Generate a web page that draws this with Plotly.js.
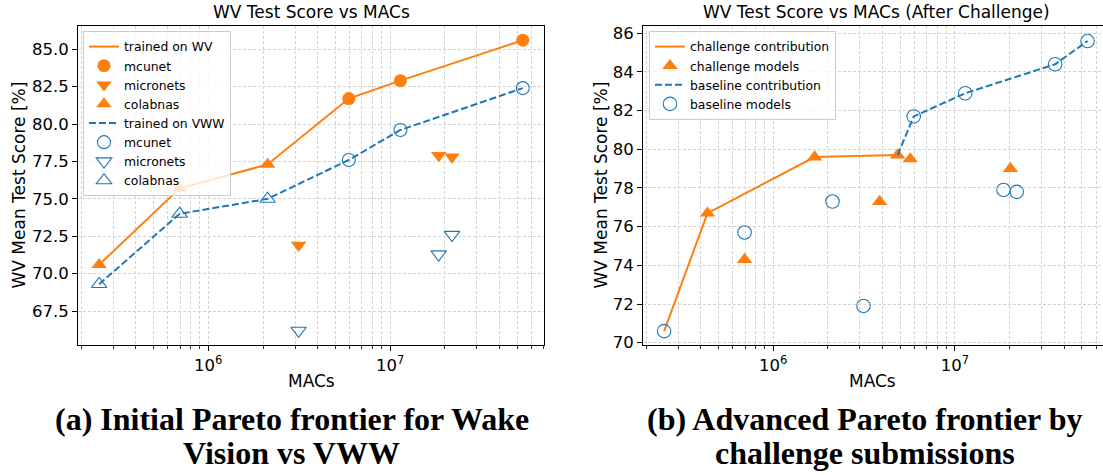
<!DOCTYPE html>
<html><head><meta charset="utf-8">
<script src="https://cdn.plot.ly/plotly-3.0.1.min.js"></script>
<style>html,body{margin:0;padding:0;background:#fff;overflow:hidden}</style>
</head><body><div id="chart" style="width:1103px;height:475px"></div>
<script>
// ---------- data (a): trained on WV ----------
const wvMcunetMACs = [5.93e6, 1.14e7, 5.37e7];
const wvMcunetScore = [81.7, 82.9, 85.6];
const wvMicronetsMACs = [3.14e6, 1.85e7, 2.19e7];
const wvMicronetsScore = [71.9, 77.9, 77.8];
const wvColabnasMACs = [2.51e5, 6.96e5, 2.12e6];
const wvColabnasScore = [70.6, 75.7, 77.3];
const wvFrontMACs = [2.51e5, 6.96e5, 2.12e6, 5.93e6, 1.14e7, 5.37e7];
const wvFrontScore = [70.6, 75.7, 77.3, 81.7, 82.9, 85.6];
// ---------- data (a): trained on VWW ----------
const vwwMcunetMACs = [5.93e6, 1.14e7, 5.37e7];
const vwwMcunetScore = [77.6, 79.6, 82.4];
const vwwMicronetsMACs = [3.14e6, 1.85e7, 2.19e7];
const vwwMicronetsScore = [66.2, 71.3, 72.6];
const vwwColabnasMACs = [2.51e5, 6.96e5, 2.12e6];
const vwwColabnasScore = [69.3, 74.0, 75.0];
const vwwFrontMACs = [2.51e5, 6.96e5, 2.12e6, 5.93e6, 1.14e7, 5.37e7];
const vwwFrontScore = [69.3, 74.0, 75.0, 77.6, 79.6, 82.4];
// ---------- data (b): after challenge ----------
const challengeMACs = [4.35e5, 6.96e5, 1.69e6, 3.85e6, 4.84e6, 5.68e6, 2.02e7];
const challengeScore = [76.7, 74.3, 79.6, 77.3, 79.7, 79.5, 79.0];
const challengeFrontMACs = [2.51e5, 4.35e5, 1.69e6, 4.84e6];
const challengeFrontScore = [70.6, 76.7, 79.6, 79.7];
const baselineMACs = [2.51e5, 6.96e5, 2.12e6, 3.14e6, 5.93e6, 1.14e7, 1.85e7, 2.19e7, 3.56e7, 5.37e7];
const baselineScore = [70.6, 75.7, 77.3, 71.9, 81.7, 82.9, 77.9, 77.8, 84.4, 85.6];
const baselineFrontMACs = [4.84e6, 5.93e6, 1.14e7, 3.56e7, 5.37e7];
const baselineFrontScore = [79.7, 81.7, 82.9, 84.4, 85.6];
// ---------- labels ----------
const xMajorTicks = [1e6, 1e7];
const xMajorText = ['10<sup>6</sup>', '10<sup>7</sup>'];
const yTicksA = [67.5, 70.0, 72.5, 75.0, 77.5, 80.0, 82.5, 85.0];
const yTicksB = [70, 72, 74, 76, 78, 80, 82, 84, 86];
const titleA = 'WV Test Score vs MACs';
const titleB = 'WV Test Score vs MACs (After Challenge)';
const xLabel = 'MACs';
const yLabel = 'WV Mean Test Score [%]';
const captionA = ['(a) Initial Pareto frontier for Wake', 'Vision vs VWW'];
const captionB = ['(b) Advanced Pareto frontier by', 'challenge submissions'];

// ---------- styling ----------
const ORANGE = '#ff7f0e', BLUE = '#1f77b4';
const W = 1103, H = 475;
const FONT = 'DejaVu Sans, sans-serif';
const px = p => p / W, py = p => 1 - p / H;
const TRI = 13.5;

const minorVals = [];
[1e5, 1e6, 1e7].forEach(d => { for (let k = 2; k <= 9; k++) minorVals.push(k * d); });

function xAxis(domain, range) {
  return {
    type: 'log', domain: domain, range: range, autorange: false,
    tickmode: 'array', tickvals: xMajorTicks, ticktext: xMajorText,
    ticks: 'outside', ticklen: 5, tickwidth: 1, tickcolor: '#000',
    showline: true, linecolor: '#000', linewidth: 1, mirror: true,
    showgrid: true, gridcolor: '#d3d3d3', griddash: '3px,2px', gridwidth: 1,
    minor: { tickvals: minorVals, ticks: 'outside', ticklen: 3, tickwidth: 0.8, tickcolor: '#000',
             showgrid: true, gridcolor: '#d3d3d3', griddash: '3px,2px', gridwidth: 1 },
    tickfont: { family: FONT, size: 16.5, color: '#000' },
    zeroline: false, fixedrange: true
  };
}
function yAxis(range, ticks, fmt, anchor, mirror) {
  return {
    domain: [py(345), py(26)], range: range, autorange: false, anchor: anchor,
    tickmode: 'array', tickvals: ticks, tickformat: fmt,
    ticks: 'outside', ticklen: 5, tickwidth: 1, tickcolor: '#000',
    showline: true, linecolor: '#000', linewidth: 1, mirror: mirror,
    showgrid: true, gridcolor: '#d3d3d3', griddash: '3px,2px', gridwidth: 1,
    tickfont: { family: FONT, size: 16.5, color: '#000' },
    zeroline: false, fixedrange: true
  };
}

const traces = [
  { x: wvFrontMACs, y: wvFrontScore, mode: 'lines', name: 'trained on WV',
    line: { color: ORANGE, width: 2 }, xaxis: 'x', yaxis: 'y', legend: 'legend' },
  { x: wvMcunetMACs, y: wvMcunetScore, mode: 'markers', name: 'mcunet',
    marker: { color: ORANGE, symbol: 'circle', size: 13 }, xaxis: 'x', yaxis: 'y', legend: 'legend' },
  { x: wvMicronetsMACs, y: wvMicronetsScore, mode: 'markers', name: 'micronets',
    marker: { color: ORANGE, symbol: 'triangle-down', size: TRI }, xaxis: 'x', yaxis: 'y', legend: 'legend' },
  { x: wvColabnasMACs, y: wvColabnasScore, mode: 'markers', name: 'colabnas',
    marker: { color: ORANGE, symbol: 'triangle-up', size: TRI }, xaxis: 'x', yaxis: 'y', legend: 'legend' },
  { x: vwwFrontMACs, y: vwwFrontScore, mode: 'lines', name: 'trained on VWW',
    line: { color: BLUE, width: 2, dash: '7px,3px' }, xaxis: 'x', yaxis: 'y', legend: 'legend' },
  { x: vwwMcunetMACs, y: vwwMcunetScore, mode: 'markers', name: 'mcunet',
    marker: { color: BLUE, symbol: 'circle-open', size: 13, line: { color: BLUE, width: 1.1 } }, xaxis: 'x', yaxis: 'y', legend: 'legend' },
  { x: vwwMicronetsMACs, y: vwwMicronetsScore, mode: 'markers', name: 'micronets',
    marker: { color: BLUE, symbol: 'triangle-down-open', size: TRI, line: { color: BLUE, width: 1.1 } }, xaxis: 'x', yaxis: 'y', legend: 'legend' },
  { x: vwwColabnasMACs, y: vwwColabnasScore, mode: 'markers', name: 'colabnas',
    marker: { color: BLUE, symbol: 'triangle-up-open', size: TRI, line: { color: BLUE, width: 1.1 } }, xaxis: 'x', yaxis: 'y', legend: 'legend' },

  { x: challengeFrontMACs, y: challengeFrontScore, mode: 'lines', name: 'challenge contribution',
    line: { color: ORANGE, width: 2 }, xaxis: 'x2', yaxis: 'y2', legend: 'legend2' },
  { x: challengeMACs, y: challengeScore, mode: 'markers', name: 'challenge models',
    marker: { color: ORANGE, symbol: 'triangle-up', size: TRI }, xaxis: 'x2', yaxis: 'y2', legend: 'legend2' },
  { x: baselineFrontMACs, y: baselineFrontScore, mode: 'lines', name: 'baseline contribution',
    line: { color: BLUE, width: 2, dash: '7px,3px' }, xaxis: 'x2', yaxis: 'y2', legend: 'legend2' },
  { x: baselineMACs, y: baselineScore, mode: 'markers', name: 'baseline models',
    marker: { color: BLUE, symbol: 'circle-open', size: 13.5, line: { color: BLUE, width: 1.1 } }, xaxis: 'x2', yaxis: 'y2', legend: 'legend2' }
];

const legendStyle = (x) => ({
  x: px(x), y: py(31), xanchor: 'left', yanchor: 'top', xref: 'paper', yref: 'paper',
  bgcolor: 'rgba(255,255,255,0.8)', bordercolor: '#cccccc', borderwidth: 1,
  font: { family: FONT, size: 12.4, color: '#000' }, tracegroupgap: 0, itemwidth: 30
});

function ann(text, x, y, size, extra) {
  return Object.assign({ text: text, x: px(x), y: py(y), xref: 'paper', yref: 'paper',
    xanchor: 'center', yanchor: 'middle', showarrow: false,
    font: { family: FONT, size: size, color: '#000' } }, extra || {});
}
const SERIF = { family: 'Liberation Serif, Times New Roman, serif', size: 32, color: '#000' };

const layout = {
  width: W, height: H, autosize: false,
  margin: { l: 0, r: 0, t: 0, b: 0, pad: 0 },
  paper_bgcolor: '#fff', plot_bgcolor: '#fff',
  xaxis: xAxis([px(78), px(544)], [5.2834, 7.8466]),
  yaxis: yAxis([65.235, 86.55], yTicksA, '.1f', 'x', true),
  xaxis2: Object.assign(xAxis([px(643), 1], [5.2834, 7.815]), { anchor: 'y2' }),
  yaxis2: yAxis([69.88, 86.378], yTicksB, 'd', 'x2', false),
  legend: legendStyle(83),
  legend2: legendStyle(649),
  showlegend: true,
  annotations: [
    ann(titleA, 311, 12, 17),
    ann(titleB, 876, 12, 17),
    ann(xLabel, 311, 381, 17),
    ann(xLabel, 872, 381, 17),
    ann(yLabel, 19, 185.5, 17, { textangle: -90 }),
    ann(yLabel, 601, 185.5, 17, { textangle: -90 }),
    ann('<b>' + captionA[0] + '</b>', 292, 419, 32, { font: SERIF }),
    ann('<b>' + captionA[1] + '</b>', 291, 453, 32, { font: SERIF }),
    ann('<b>' + captionB[0] + '</b>', 865, 419, 32, { font: SERIF }),
    ann('<b>' + captionB[1] + '</b>', 865, 453, 32, { font: SERIF })
  ]
};

Plotly.newPlot('chart', traces, layout, { staticPlot: true, displayModeBar: false });
</script></body></html>
